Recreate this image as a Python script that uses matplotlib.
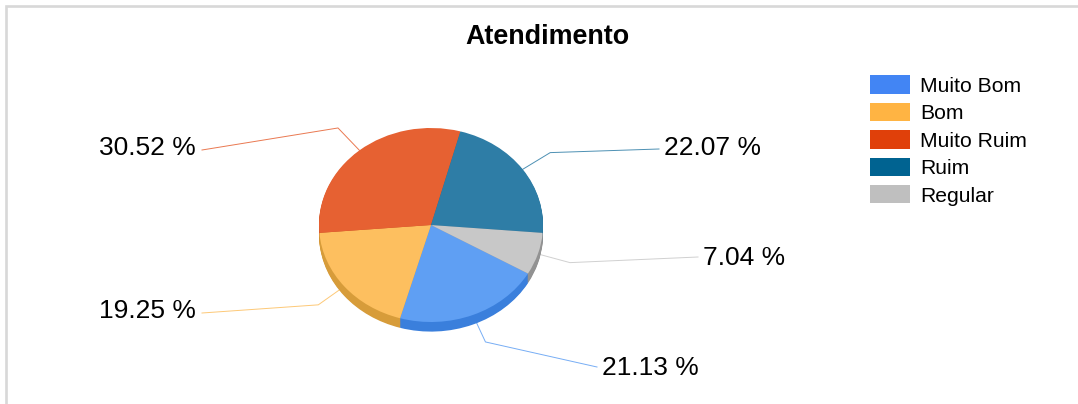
#!/usr/bin/env python3
"""Pie chart of the Atendimento survey answers."""

import numpy as np
import matplotlib
matplotlib.use("Agg")
import matplotlib.pyplot as plt
from matplotlib.patches import Patch

plt.rcParams["font.family"] = ["Liberation Sans", "DejaVu Sans"]

CATEGORIES = ["Muito Bom", "Bom", "Muito Ruim", "Ruim", "Regular"]
VALUES = [21.13, 19.25, 30.52, 22.07, 7.04]
LEGEND_COLORS = ["#4285f4", "#ffb443", "#e0400a", "#006391", "#bfbfbf"]
FACE_COLORS = ["#5f9ff3", "#fdbf5f", "#e66132", "#2e7da6", "#c8c8c8"]
SIDE_COLORS = ["#3a7fdc", "#d79c3a", "#c4501f", "#1d6488", "#929292"]

W, H = 1078, 404
CX, CY, RX, RY = 431.0, 225.0, 112.0, 97.0
DEPTH = 9.6
START = -30
ELBOW = 1.3
# where each leader line ends, and how far its label sits from that end, in pixels
LABEL_ENDS = [(597, 367), (202, 313), (202, 150), (659, 149), (698, 257)]
LABEL_DY = [1, -2, -2, -1, 1]

fig = plt.figure(figsize=(W / 100, H / 100), dpi=100, facecolor="white")

ax_bg = fig.add_axes([0, 0, 1, 1])
ax_bg.set_xlim(0, W)
ax_bg.set_ylim(H, 0)
ax_bg.axis("off")
ax_bg.plot([6.3, 6.3, W], [H, 6.3, 6.3], color="#d8d8d8", linewidth=1.9,
           solid_joinstyle="miter")
ax_bg.text(547, 36.5, "Atendimento", ha="center", va="center",
           fontsize=19.4, fontweight="bold", color="black")

# leader lines, under the pie
mids = []
angle = START
for value in VALUES:
    sweep = value * 3.6
    mids.append(np.radians(angle - sweep / 2))
    angle -= sweep
for value, mid, color, end, dy in zip(VALUES, mids, FACE_COLORS, LABEL_ENDS, LABEL_DY):
    xs = [CX + RX * np.cos(mid), CX + ELBOW * RX * np.cos(mid), end[0]]
    ys = [CY - RY * np.sin(mid), CY - ELBOW * RY * np.sin(mid), end[1]]
    ax_bg.plot(xs, ys, color=color, linewidth=0.7, alpha=0.85)
    left = end[0] > CX
    ax_bg.text(end[0] + (5 if left else -6), end[1] + dy, f"{value:.2f} %",
               ha="left" if left else "right", va="center", fontsize=19,
               color="black")

handles = [Patch(facecolor=c, edgecolor="none") for c in LEGEND_COLORS]
ax_bg.legend(handles, CATEGORIES, loc="upper left",
             bbox_to_anchor=(870 / W, 1 - 75.5 / H), bbox_transform=fig.transFigure,
             frameon=False, fontsize=15.2, borderpad=0, borderaxespad=0,
             handlelength=1.9, handleheight=0.95, handletextpad=0.47,
             labelspacing=0.335, labelcolor="black")

# pie axes: one unit is RX pixels across and RY pixels down
ax_pie = fig.add_axes([0, 0, 1, 1])
ax_pie.patch.set_alpha(0)
for step in range(11, 0, -1):
    ax_pie.pie(VALUES, colors=SIDE_COLORS, startangle=START, counterclock=False,
               center=(0, -DEPTH / RY * step / 11), radius=1,
               wedgeprops={"linewidth": 0})
ax_pie.pie(VALUES, colors=FACE_COLORS, startangle=START, counterclock=False,
           center=(0, 0), radius=1, wedgeprops={"linewidth": 0})
ax_pie.set_aspect("auto")
ax_pie.set_xlim(-CX / RX, (W - CX) / RX)
ax_pie.set_ylim((CY - H) / RY, CY / RY)
ax_pie.axis("off")

fig.savefig("out.png", dpi=100)
plt.close(fig)
